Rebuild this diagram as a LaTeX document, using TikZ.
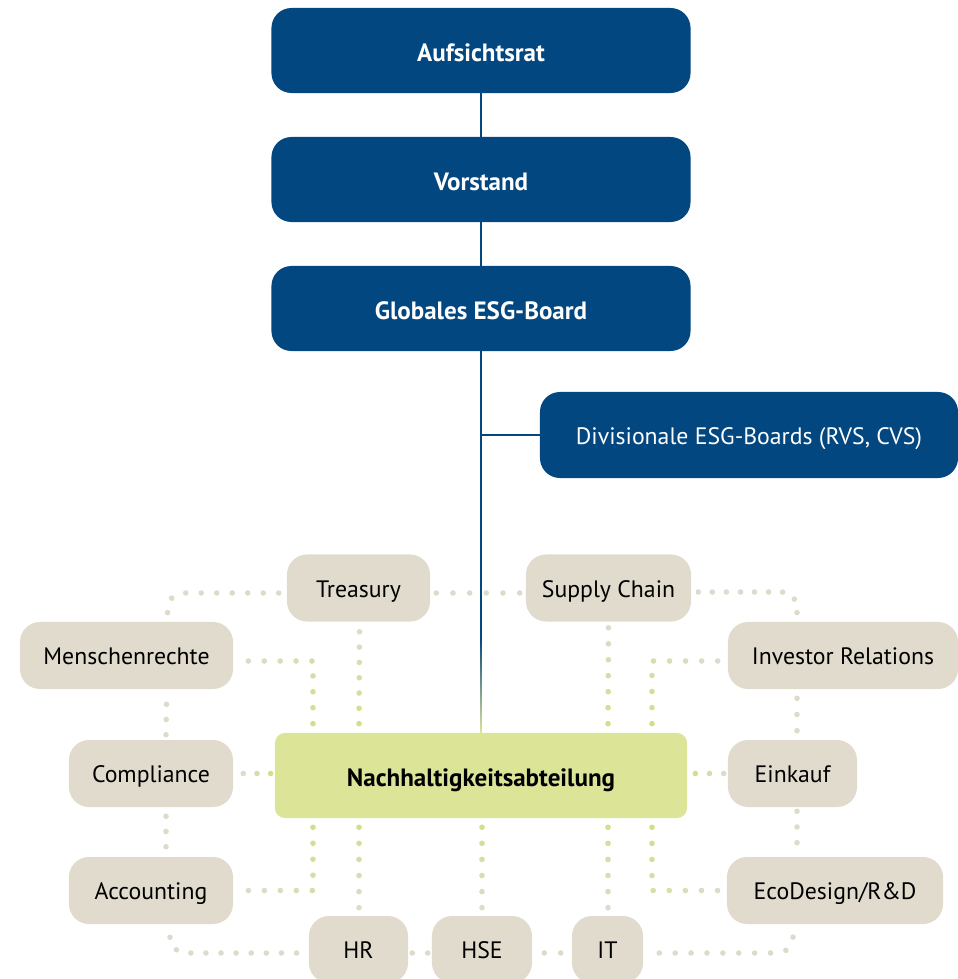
\documentclass[tikz,border=0pt]{standalone}
\usepackage{fontspec}
\setmainfont{PT Sans}
\usetikzlibrary{calc,decorations.markings}

\definecolor{esgblue}{RGB}{3,71,128}
\definecolor{boxgray}{RGB}{224,219,205}
\definecolor{nachgreen}{RGB}{220,228,152}
\definecolor{dotgray}{RGB}{222,218,204}
\definecolor{dotgreen}{RGB}{212,222,136}

\tikzset{
  board/.style={rectangle, rounded corners=0.5cm, fill=esgblue, text=white,
    minimum height=2.125cm, text height=13.2pt, text depth=0pt,
    font=\fontsize{16.9}{20}\selectfont},
  boardbold/.style={board, text height=15.3pt, font=\bfseries\fontsize{17.8}{21}\selectfont},
  dept/.style={rectangle, rounded corners=0.5cm, fill=boxgray, text=black,
    minimum height=1.675cm, text height=13.2pt, text depth=0pt,
    font=\fontsize{16.9}{20}\selectfont},
  hub/.style={rectangle, rounded corners=0.25cm, fill=nachgreen,
    minimum width=10.3cm, minimum height=2.125cm, text height=15.3pt, text depth=0pt,
    font=\bfseries\fontsize{17.8}{21}\selectfont},
  link/.style={draw=esgblue, line width=1.3pt},
  dotlink/.style n args={3}{decorate, decoration={markings,
    mark=between positions 0 and 1 step (1/#3-0.0001) with {
      \pgfmathtruncatemacro\mixv{100*(\pgfkeysvalueof{/pgf/decoration/mark info/sequence number}-1)/#3}
      \fill[#2!\mixv!#1] (0,0) circle (0.07cm);}}},
}

\begin{document}
\begin{tikzpicture}[x=0.025cm, y=-0.025cm]
\useasboundingbox (0,0) rectangle (958,979);

% Gremien
\node[boardbold, minimum width=10.475cm] (ar) at (481,50.5) {Aufsichtsrat};
\node[boardbold, minimum width=10.475cm] (vs) at (481,179.5) {Vorstand};
\node[boardbold, minimum width=10.475cm] (gesg) at (481,308.5) {Globales ESG-Board};
\node[board, minimum width=10.45cm, minimum height=2.15cm] (div) at (749,435) {Divisionale ESG-Boards (RVS, CVS)};
\node[hub] (nach) at (481,775.5) {Nachhaltigkeitsabteilung};

% Fachbereiche
\node[dept, minimum width=3.575cm] (trs) at (358.5,588) {Treasury};
\node[dept, minimum width=4.125cm] (sc) at (608.5,588) {Supply Chain};
\node[dept, minimum width=5.325cm] (mr) at (126.5,655.5) {Menschenrechte};
\node[dept, minimum width=5.75cm] (ir) at (843,655.5) {Investor Relations};
\node[dept, minimum width=4.1cm] (cmp) at (151,773.5) {Compliance};
\node[dept, minimum width=3.225cm] (eink) at (792.5,773.5) {Einkauf};
\node[dept, minimum width=4.1cm] (acc) at (151,890.5) {Accounting};
\node[dept, minimum width=5.4cm] (eco) at (835,890.5) {EcoDesign/R\&D};
\node[dept, minimum width=2.475cm] (hr) at (358.5,949.5) {HR};
\node[dept, minimum width=2.5cm] (hse) at (482,949.5) {HSE};
\node[dept, minimum width=1.775cm] (it) at (607.5,949.5) {IT};

% Berichtslinie
\draw[link] (ar) -- (vs);
\draw[link] (vs) -- (gesg);
\draw[link] (gesg) -- (nach);
\draw[link] (div.west) -- (div.west -| gesg.south);
\shade[top color=esgblue, bottom color=nachgreen]
  ($(nach.north)+(-0.92,-95)$) rectangle ($(nach.north)+(0.92,0)$);

% graue Querverbindungen
\path[dotlink={dotgray}{dotgray}{8}, rounded corners=0.4cm] ($(trs.west)+(-8,5)$) -| ($(mr.north)+(41,-9)$);
\path[dotlink={dotgray}{dotgray}{5}] ($(trs.east)+(6,5)$) -- ($(sc.west)+(-6,5)$);
\path[dotlink={dotgray}{dotgray}{8}, rounded corners=0.4cm] ($(sc.east)+(7,4)$) -| ($(ir.north)+(-46,-9)$);
\path[dotlink={dotgray}{dotgray}{2}] ($(mr.south)+(40,15)$) -- ($(cmp.north)+(15,-5)$);
\path[dotlink={dotgray}{dotgray}{2}] ($(cmp.south)+(15,9)$) -- ($(acc.north)+(15,-10)$);
\path[dotlink={dotgray}{dotgray}{9}, rounded corners=0.4cm] ($(acc.south)+(19,13)$) |- ($(hr.west)+(-12,3.5)$);
\path[dotlink={dotgray}{dotgray}{1}] ($(hr.east)+(4,3.5)$) -- ($(hse.west)+(-4,3.5)$);
\path[dotlink={dotgray}{dotgray}{1}] ($(hse.east)+(12,3.5)$) -- ($(it.west)+(-11,3.5)$);
\path[dotlink={dotgray}{dotgray}{9}, rounded corners=0.4cm] ($(it.east)+(16,3.5)$) -| ($(eco.south)+(-42,13)$);
\path[dotlink={dotgray}{dotgray}{2}] ($(ir.south)+(-46,9)$) -- ($(eink.north)+(4.5,-9)$);
\path[dotlink={dotgray}{dotgray}{2}] ($(eink.south)+(4.5,4)$) -- ($(eco.north)+(-38,-14)$);

% Verbindungen zur Nachhaltigkeitsabteilung
\path[dotlink={dotgray}{dotgreen}{8}] ($(mr.east)+(15,5.5)$) -| ($(nach.north)+(-168,-9)$);
\path[dotlink={dotgray}{dotgreen}{6}] ($(trs.south)+(1,10)$) -- ($(nach.north)+(-122,-9)$);
\path[dotlink={dotgray}{dotgreen}{6}] ($(sc.south)+(0,6)$) -- ($(nach.north)+(127,-9)$);
\path[dotlink={dotgray}{dotgreen}{8}] ($(ir.west)+(-10,5.5)$) -| ($(nach.north)+(171,-9)$);
\path[dotlink={dotgray}{dotgreen}{2}] ($(cmp.east)+(10,0)$) -- ($(nach.west)+(-4,-2)$);
\path[dotlink={dotgreen}{dotgray}{2}] ($(nach.east)+(8,-2)$) -- ($(eink.west)+(-4,0)$);
\path[dotlink={dotgreen}{dotgray}{8}] ($(nach.south)+(-168,9)$) |- ($(acc.east)+(15,0)$);
\path[dotlink={dotgreen}{dotgray}{5}] ($(nach.south)+(-122,9)$) -- ($(hr.north)+(0.5,-8)$);
\path[dotlink={dotgreen}{dotgray}{5}] ($(nach.south)+(1,9)$) -- ($(hse.north)+(0,-8)$);
\path[dotlink={dotgreen}{dotgray}{5}] ($(nach.south)+(127,9)$) -- ($(it.north)+(0.5,-8)$);
\path[dotlink={dotgreen}{dotgray}{8}] ($(nach.south)+(171,9)$) |- ($(eco.west)+(-9,0)$);
\end{tikzpicture}
\end{document}
